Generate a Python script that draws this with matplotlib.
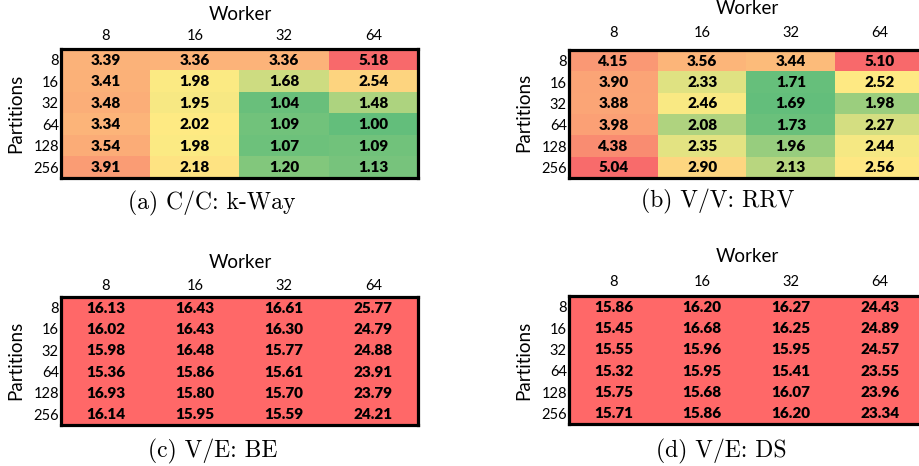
import numpy as np
import matplotlib
matplotlib.use("Agg")
import matplotlib.pyplot as plt
from matplotlib.colors import to_rgb

workers = ["8", "16", "32", "64"]
partitions = ["8", "16", "32", "64", "128", "256"]

kway = [[3.39, 3.36, 3.36, 5.18],
        [3.41, 1.98, 1.68, 2.54],
        [3.48, 1.95, 1.04, 1.48],
        [3.34, 2.02, 1.09, 1.00],
        [3.54, 1.98, 1.07, 1.09],
        [3.91, 2.18, 1.20, 1.13]]
rrv = [[4.15, 3.56, 3.44, 5.10],
       [3.90, 2.33, 1.71, 2.52],
       [3.88, 2.46, 1.69, 1.98],
       [3.98, 2.08, 1.73, 2.27],
       [4.38, 2.35, 1.96, 2.44],
       [5.04, 2.90, 2.13, 2.56]]
be = [[16.13, 16.43, 16.61, 25.77],
      [16.02, 16.43, 16.30, 24.79],
      [15.98, 16.48, 15.77, 24.88],
      [15.36, 15.86, 15.61, 23.91],
      [16.93, 15.80, 15.70, 23.79],
      [16.14, 15.95, 15.59, 24.21]]
ds = [[15.86, 16.20, 16.27, 24.43],
      [15.45, 16.68, 16.25, 24.89],
      [15.55, 15.96, 15.95, 24.57],
      [15.32, 15.95, 15.41, 23.55],
      [15.75, 15.68, 16.07, 23.96],
      [15.71, 15.86, 16.20, 23.34]]
captions = ["(a) C/C: k-Way", "(b) V/V: RRV", "(c) V/E: BE", "(d) V/E: DS"]

GREEN, YELLOW, RED = map(np.array, map(to_rgb, ["#63BE7B", "#FFEB84", "#F8696B"]))
FLAT_RED = np.array(to_rgb("#FF6868"))


def scale_colors(vals, flat=False):
    v = np.asarray(vals, float)
    if flat:
        return np.broadcast_to(FLAT_RED, v.shape + (3,)).copy()
    lo, mid, hi = v.min(), np.median(v), v.max()
    out = np.zeros(v.shape + (3,))
    for idx, x in np.ndenumerate(v):
        if x <= mid:
            t = (x - lo) / (mid - lo)
            out[idx] = GREEN + (YELLOW - GREEN) * t
        else:
            t = (x - mid) / (hi - mid)
            out[idx] = YELLOW + (RED - YELLOW) * t
    return out


W, H = 920, 466
fig = plt.figure(figsize=(W / 100, H / 100), dpi=100)
SANS = ["Lato", "DejaVu Sans"]

panels = [
    dict(data=kway, flat=False, box=(61, 49, 418, 178), worker=(240, 15), part=(16, 113), cap=(212, 203), pad=4),
    dict(data=rrv, flat=False, box=(569, 50, 924, 178), worker=(747, 9), part=(524, 112), cap=(718, 201), pad=7),
    dict(data=be, flat=True, box=(61, 297, 418, 425), worker=(240, 263), part=(16, 360), cap=(213, 451), pad=3),
    dict(data=ds, flat=True, box=(569, 296, 924, 424), worker=(747, 256), part=(524, 360), cap=(721, 451), pad=5),
]

for p, cap in zip(panels, captions):
    l, t, r, b = p["box"]
    ax = fig.add_axes([l / W, 1 - b / H, (r - l) / W, (b - t) / H])
    ax.imshow(scale_colors(p["data"], p["flat"]), aspect="auto", interpolation="nearest")
    vals = np.asarray(p["data"])
    for (i, j), v in np.ndenumerate(vals):
        ax.text(j, i + 0.03, f"{v:.2f}", ha="center", va="center", fontsize=11,
                fontweight="heavy", family=SANS, color="black")
    ax.set_xticks(range(len(workers)))
    ax.set_xticklabels(workers, family=SANS, fontsize=10.5)
    ax.set_yticks(range(len(partitions)))
    ax.set_yticklabels(partitions, family=SANS, fontsize=10.5)
    ax.xaxis.tick_top()
    ax.tick_params(axis="both", length=0)
    ax.tick_params(axis="x", pad=p["pad"])
    ax.tick_params(axis="y", pad=1.5)
    for s in ax.spines.values():
        s.set_linewidth(2.3)
        s.set_color("black")
    fig.text(p["worker"][0] / W, 1 - p["worker"][1] / H, "Worker", ha="center", va="center",
             family=SANS, fontsize=13.5)
    fig.text(p["part"][0] / W, 1 - p["part"][1] / H, "Partitions", ha="center", va="center",
             rotation=90, family=SANS, fontsize=13.5)
    fig.text(p["cap"][0] / W, 1 - p["cap"][1] / H, cap, ha="center", va="center",
             family="cmr10", fontsize=17)

fig.savefig("out.png", dpi=100)
